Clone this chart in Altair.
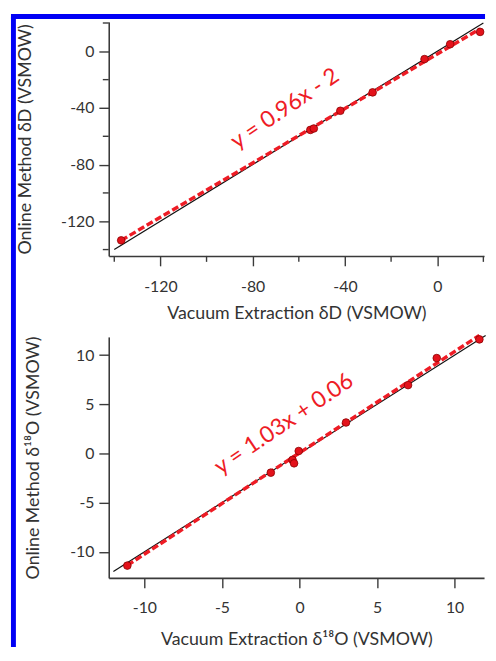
import altair as alt
import pandas as pd

# ---------------- data ----------------
# Top panel: deuterium
dD_vacuum = [-137.0, -55.0, -53.5, -42.0, -28.0, -5.5, 5.6, 18.6]
dD_online = [-133.5, -55.5, -54.5, -42.0, -29.0, -5.5, 5.0, 13.7]
dD_fit_slope, dD_fit_intercept = 0.96, -2.0
dD_fit_label = "y = 0.96x - 2"
dD_one_to_one = [-140.0, 20.0]
dD_x_domain = [-142.4, 20.3]
dD_y_domain = [-144.5, 20.8]
dD_major_ticks = [-120, -80, -40, 0]
dD_minor_ticks = [-140, -100, -60, -20, 20]
dD_label_pos = [-66.0, -40.5]

# Bottom panel: oxygen-18
d18O_vacuum = [-11.1, -1.85, -0.45, -0.35, -0.05, 3.0, 7.0, 8.85, 11.6]
d18O_online = [-11.4, -1.95, -0.65, -1.0, 0.25, 3.15, 6.95, 9.7, 11.6]
d18O_fit_slope, d18O_fit_intercept = 1.03, 0.06
d18O_fit_label = "y = 1.03x + 0.06"
d18O_one_to_one = [-12.0, 12.0]
d18O_x_domain = [-12.3, 11.9]
d18O_y_domain = [-12.65, 11.85]
d18O_major_ticks = [-10, -5, 0, 5, 10]
d18O_minor_ticks = []
d18O_label_pos = [-1.0, 3.0]

RED = "#ee1c25"
AXC = "#3a3a3a"
FONT = "Lato"
W = 380
H_TOP = 237
H_BOT = 244


def panel(xv, yv, slope, intercept, label, one, xdom, ydom, majors, minors, lpos,
          xtitle, ytitle, height, xtitle_y, ytitle_x, xpad):
    pts = pd.DataFrame({"x": xv, "y": yv})
    xs = [min(xv), max(xv)]
    fit = pd.DataFrame({"x": xs, "y": [slope * v + intercept for v in xs]})
    ident = pd.DataFrame({"x": one, "y": one})
    lab = pd.DataFrame({"x": [lpos[0]], "y": [lpos[1]], "t": [label]})

    txt = "datum.value < 0 ? '-' + abs(datum.value) : '' + datum.value"
    xaxis = alt.Axis(values=majors, title=xtitle, grid=False, labelExpr=txt,
                     tickSize=10, labelPadding=xpad, titleY=xtitle_y,
                     titleBaseline="middle", labelFlush=False, labelOverlap=False)
    yaxis = alt.Axis(values=majors, title=ytitle, grid=False, labelExpr=txt,
                     tickSize=10, labelPadding=5, titleX=ytitle_x,
                     titleBaseline="middle", labelFlush=False, labelOverlap=False)
    xsc = alt.Scale(domain=xdom, nice=False, zero=False)
    ysc = alt.Scale(domain=ydom, nice=False, zero=False)

    layers = []
    layers.append(alt.Chart(ident).mark_line(color="#111111", strokeWidth=1.2).encode(
        x=alt.X("x:Q", scale=xsc, axis=xaxis), y=alt.Y("y:Q", scale=ysc, axis=yaxis)))
    layers.append(alt.Chart(fit).mark_line(color=RED, strokeWidth=3.5, strokeDash=[7, 3]).encode(
        x=alt.X("x:Q", scale=xsc), y=alt.Y("y:Q", scale=ysc)))
    layers.append(alt.Chart(pts).mark_point(filled=True, size=60, color="#e3121b", stroke="#8a0000",
                                            strokeWidth=0.8, opacity=1).encode(
        x=alt.X("x:Q", scale=xsc), y=alt.Y("y:Q", scale=ysc)))
    layers.append(alt.Chart(lab).mark_text(color=RED, font=FONT, fontSize=23, angle=326,
                                           align="center", baseline="middle").encode(
        x=alt.X("x:Q", scale=xsc), y=alt.Y("y:Q", scale=ysc), text="t:N"))
    if minors:
        mdf = pd.DataFrame({"v": minors})
        layers.append(alt.Chart(mdf).mark_rule(color=AXC, strokeWidth=1.4).encode(
            x=alt.X("v:Q", scale=xsc), y=alt.value(height), y2=alt.value(height + 6)))
        layers.append(alt.Chart(mdf).mark_rule(color=AXC, strokeWidth=1.4).encode(
            y=alt.Y("v:Q", scale=ysc), x=alt.value(0), x2=alt.value(-6)))
    return layers


top_layers = panel(dD_vacuum, dD_online, dD_fit_slope, dD_fit_intercept, dD_fit_label,
                   dD_one_to_one, dD_x_domain, dD_y_domain, dD_major_ticks, dD_minor_ticks,
                   dD_label_pos, "Vacuum Extraction δD (VSMOW)", "Online Method δD (VSMOW)",
                   H_TOP, 58, -84, 13)

# decorative blue frame (page decoration, not data)
one = pd.DataFrame({"a": [0]})
BLUE = "#0000f5"
frame_top = alt.Chart(one).mark_rule(color=BLUE, strokeWidth=5).encode(
    x=alt.value(-99), x2=alt.value(381), y=alt.value(-5.5))
frame_left = alt.Chart(one).mark_rule(color=BLUE, strokeWidth=5).encode(
    x=alt.value(-96.5), y=alt.value(-5.5), y2=alt.value(633))

top = alt.layer(*top_layers, frame_top, frame_left).properties(width=W, height=H_TOP)

bottom_layers = panel(d18O_vacuum, d18O_online, d18O_fit_slope, d18O_fit_intercept, d18O_fit_label,
                      d18O_one_to_one, d18O_x_domain, d18O_y_domain, d18O_major_ticks, d18O_minor_ticks,
                      d18O_label_pos, "Vacuum Extraction δ¹⁸O  (VSMOW)", "Online Method δ¹⁸O  (VSMOW)",
                      H_BOT, 62, -76, 12)
bottom = alt.layer(*bottom_layers).properties(width=W, height=H_BOT)

chart = alt.vconcat(top, bottom, spacing=82, bounds="flush").properties(
    padding={"left": 0, "top": 2, "right": 0, "bottom": 0},
    background="white",
).configure_view(stroke=None).configure_axis(
    labelFont=FONT, labelFontSize=16, labelColor="#333333",
    titleFont=FONT, titleFontSize=18, titleFontWeight="normal", titleColor="#333333",
    domainColor=AXC, domainWidth=1.6, tickColor=AXC, tickWidth=1.4,
)

chart.save("out.html", embed_options={"renderer": "svg", "actions": False})
